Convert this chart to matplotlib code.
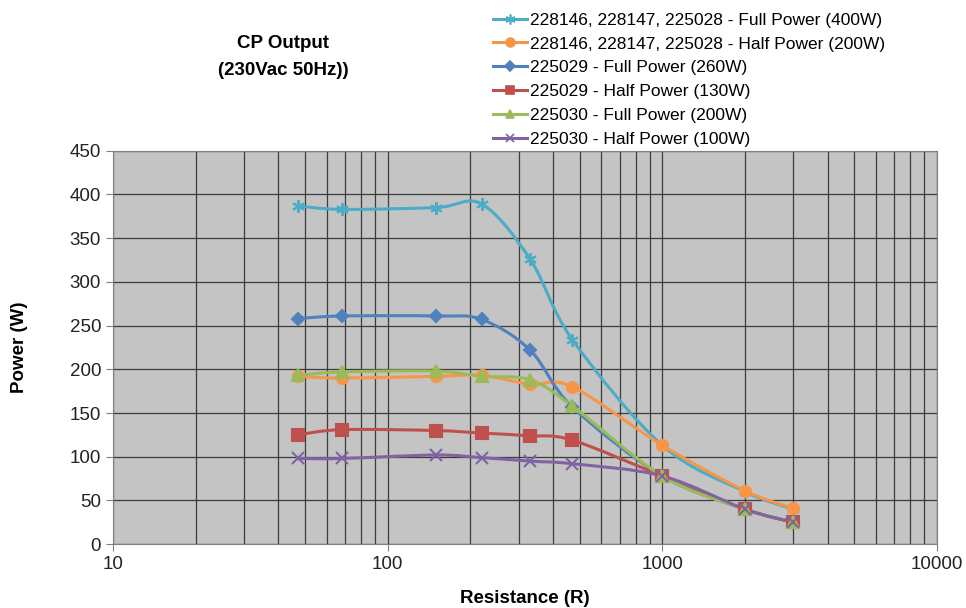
#! /usr/bin/env python3
# coding: utf-8

import numpy as np
import matplotlib
matplotlib.use('Agg')
import matplotlib.pyplot as plt
from matplotlib.path import Path
from matplotlib.patches import PathPatch
from matplotlib.lines import Line2D

plt.rcParams['font.family'] = ['Liberation Sans', 'DejaVu Sans']

RESISTANCE = [47, 68, 150, 220, 330, 470, 1000, 2000, 3000]

FULL_400 = [387, 383, 385, 389, 326, 234, 113, 60, 40]
HALF_200 = [192, 190, 192, 193, 183, 180, 113, 61, 41]
FULL_260 = [258, 261, 261, 257, 222, 157, 78, 40, 25]
HALF_130 = [125, 131, 130, 127, 124, 119, 78, 40, 25]
FULL_200 = [193, 197, 198, 192, 188, 158, 78, 40, 25]
HALF_100 = [98, 98, 102, 99, 95, 92, 78, 40, 25]

LABELS = ['228146, 228147, 225028 - Full Power (400W)',
          '228146, 228147, 225028 - Half Power (200W)',
          '225029 - Full Power (260W)',
          '225029 - Half Power (130W)',
          '225030 - Full Power (200W)',
          '225030 - Half Power (100W)']
SERIES = [FULL_400, HALF_200, FULL_260, HALF_130, FULL_200, HALF_100]
COLORS = ['#4BACC6', '#F79646', '#4F81BD', '#C0504D', '#9BBB59', '#8064A2']
MARKERS = [(6, 2, 0), 'o', 'D', 's', '^', 'x']
MSIZES = [9, 8, 6, 8, 8, 8]


def smooth_path(xs, ys):
    # excel style smoothed line: bezier through the points, built in log-x space
    lx = np.log10(xs)
    ly = np.array(ys, dtype=float)
    pts = np.column_stack([lx, ly])
    n = len(pts)
    verts = [pts[0]]
    codes = [Path.MOVETO]
    for i in range(n - 1):
        p0 = pts[i - 1] if i > 0 else pts[i]
        p1 = pts[i]
        p2 = pts[i + 1]
        p3 = pts[i + 2] if i + 2 < n else pts[i + 1]
        c1 = p1 + (p2 - p0) / 6.
        c2 = p2 - (p3 - p1) / 6.
        verts += [c1, c2, p2]
        codes += [Path.CURVE4] * 3
    verts = np.array(verts)
    verts[:, 0] = 10 ** verts[:, 0]
    return Path(verts, codes)


fig = plt.figure(figsize=(9.66, 6.08), dpi=100)
ax = fig.add_axes([0.117, 0.105, 0.853, 0.647])
ax.set_facecolor('#C4C4C4')

handles = []
for ys, label, color, marker, ms in zip(SERIES, LABELS, COLORS, MARKERS, MSIZES):
    patch = PathPatch(smooth_path(RESISTANCE, ys), facecolor='none', edgecolor=color,
                      lw=2.2, zorder=3)
    ax.add_patch(patch)
    ax.plot(RESISTANCE, ys, linestyle='none', marker=marker, markersize=ms, color=color,
            markeredgecolor=color, markeredgewidth=1.5, zorder=4)
    handles.append(Line2D([], [], color=color, lw=2.2, marker=marker, markersize=ms * 0.8,
                          markeredgewidth=1.2, label=label))

ax.set_xscale('log')
ax.set_xlim(10, 10000)
ax.set_ylim(0, 450)
ax.set_yticks(range(0, 451, 50))
ax.set_xticks([10, 100, 1000, 10000])
ax.set_xticklabels(['10', '100', '1000', '10000'])
ax.minorticks_on()
ax.yaxis.set_minor_locator(matplotlib.ticker.NullLocator())
ax.grid(True, which='both', axis='x', color='#3C3C3C', lw=0.9)
ax.grid(True, which='major', axis='y', color='#3C3C3C', lw=0.9)
ax.set_axisbelow(True)
ax.tick_params(which='major', length=5, color='#808080', labelsize=13.5, colors='#222222')
ax.tick_params(which='minor', length=0)
for s in ax.spines.values():
    s.set_color('#808080')

ax.set_xlabel('Resistance (R)', fontsize=13.5, fontweight='bold', labelpad=12)
ax.set_ylabel('Power (W)', fontsize=13.5, fontweight='bold', labelpad=30)

fig.text(0.293, 0.906, 'CP Output\n(230Vac 50Hz))', ha='center', va='center',
         fontsize=13.5, fontweight='bold', linespacing=1.8)

fig.legend(handles=handles, loc='upper left', bbox_to_anchor=(0.5, 0.995), frameon=False,
           fontsize=12.5, handlelength=2.0, handletextpad=0.15, labelspacing=0.5,
           borderaxespad=0.25, borderpad=0.3)

fig.savefig('out.png', dpi=100)
